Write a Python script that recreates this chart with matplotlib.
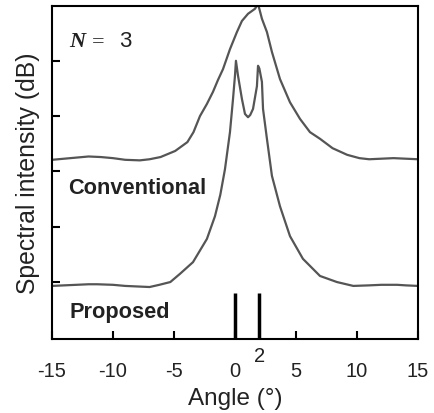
import matplotlib
matplotlib.use("Agg")
import matplotlib.pyplot as plt
import numpy as np

# angle (deg) and intensity (dB)
conv_angle = [-15.0, -14.0, -13.0, -12.0, -11.0, -10.0, -9.0, -7.8, -7.0, -6.1,
              -4.9, -3.9, -3.4, -2.87, -2.3, -1.8, -1.4, -0.98, -0.41, 0.16, 0.57,
              1.07, 1.64, 1.89, 2.21, 2.62, 3.03, 3.69, 4.51, 5.33, 6.15, 6.97,
              8.0, 9.2, 10.2, 11.0, 12.0, 13.0, 14.0, 15.0]
conv_db = [22.1, 22.3, 22.5, 22.7, 22.6, 22.4, 22.1, 22.0, 22.2, 22.6,
           23.7, 25.3, 27.1, 30.0, 32.2, 34.4, 36.5, 38.5, 42.1, 45.2, 47.2,
           48.5, 49.4, 50.3, 47.6, 45.2, 41.6, 36.7, 32.5, 29.5, 27.1, 25.9,
           24.2, 23.0, 22.4, 22.2, 22.3, 22.4, 22.3, 22.2]

prop_angle = [-15.0, -14.0, -13.0, -12.0, -11.3, -10.0, -9.0, -8.0, -7.0, -6.2,
              -5.3, -4.5, -3.44, -2.3, -1.64, -1.2, -0.82, -0.41, -0.16, 0.0,
              0.08, 0.25, 0.57, 0.82, 1.07, 1.25, 1.48, 1.8, 1.89, 2.0, 2.21,
              2.3, 2.62, 3.03, 3.69, 4.51, 5.57, 6.97, 8.36, 9.7, 11.0, 12.0,
              13.3, 14.0, 15.0]
prop_db = [-0.7, -0.6, -0.5, -0.4, -0.4, -0.5, -0.7, -0.8, -0.9, -0.5,
           0.0, 1.5, 3.6, 7.8, 11.9, 15.8, 20.4, 27.1, 33.1, 37.3,
           40.0, 37.3, 33.1, 30.4, 29.8, 30.2, 31.3, 35.4, 39.1, 38.6, 36.2,
           31.3, 25.9, 19.2, 13.7, 8.3, 4.2, 1.1, 0.0, -0.7, -0.6, -0.5,
           -0.5, -0.6, -0.7]

bar_angle = [0.0, 2.0]
bar_top = -2.0

xticks = [-15, -10, -5, 0, 5, 10, 15]
yticks = [0, 10, 20, 30, 40]

line_col = "#555555"
txt_col = "#222222"

fig = plt.figure(figsize=(4.34, 4.14), dpi=100)
ax = fig.add_axes([0.1198, 0.1787, 0.8432, 0.8043])

ax.plot(conv_angle, conv_db, color=line_col, lw=1.6)
ax.plot(prop_angle, prop_db, color=line_col, lw=1.6)
ax.vlines(bar_angle, -10.3, bar_top, color="black", lw=2.5)

ax.set_xlim(-15, 15)
ax.set_ylim(-10.3, 49.9)
ax.set_xticks(xticks)
ax.set_xticklabels([str(t) for t in xticks], family="Liberation Sans",
                   fontsize=14.5, color=txt_col)
ax.set_yticks(yticks)
ax.set_yticklabels([])
ax.tick_params(direction="in", length=5.5, width=1.5, colors="black",
               labelcolor=txt_col)
ax.tick_params(axis="x", pad=16)
for s in ax.spines.values():
    s.set_linewidth(1.5)

# the extra "2" label under the second bar
ax.text(2, -0.022, "2", transform=ax.get_xaxis_transform(), ha="center", va="top",
        family="Liberation Sans", fontsize=14.5, color=txt_col)

ax.set_xlabel("Angle (°)", family="Liberation Sans", fontsize=17.5, color=txt_col,
              labelpad=5)
ax.set_ylabel("Spectral intensity (dB)", family="Liberation Sans", fontsize=17.8,
              color=txt_col, labelpad=5)

ax.text(0.047, 0.880, "N", transform=ax.transAxes, family="Liberation Serif",
        style="italic", fontweight="bold", fontsize=16, color=txt_col, va="baseline")
ax.text(0.109, 0.880, "=", transform=ax.transAxes, family="Liberation Serif",
        fontsize=16, color=txt_col, va="baseline")
ax.text(0.184, 0.880, "3", transform=ax.transAxes, family="Liberation Sans",
        fontsize=16, color=txt_col, va="baseline")
ax.text(0.044, 0.456, "Conventional", transform=ax.transAxes, family="Liberation Sans",
        fontweight="bold", fontsize=15.7, color=txt_col, va="center")
ax.text(0.049, 0.084, "Proposed", transform=ax.transAxes, family="Liberation Sans",
        fontweight="bold", fontsize=15.7, color=txt_col, va="center")

fig.savefig("out.png", dpi=100)
